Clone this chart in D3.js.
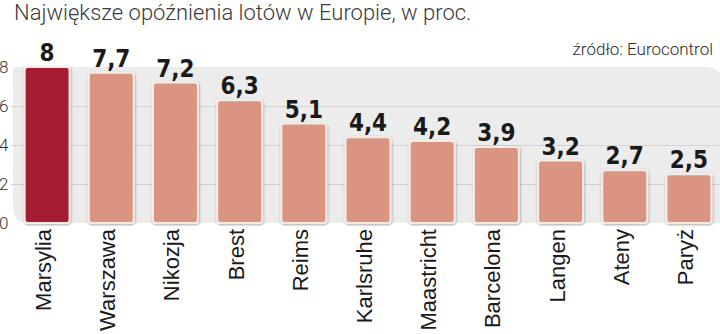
<!DOCTYPE html>
<html><head><meta charset="utf-8">
<script src="https://cdn.jsdelivr.net/npm/d3@7"></script>
<style>
html,body{margin:0;padding:0;background:#fff;}
svg{display:block;}
</style></head>
<body>
<svg id="chart" width="720" height="334"></svg>
<script>
const categories = ["Marsylia","Warszawa","Nikozja","Brest","Reims","Karlsruhe","Maastricht","Barcelona","Langen","Ateny","Paryż"];
const values = [8, 7.7, 7.2, 6.3, 5.1, 4.4, 4.2, 3.9, 3.2, 2.7, 2.5];
const valueLabels = ["8","7,7","7,2","6,3","5,1","4,4","4,2","3,9","3,2","2,7","2,5"];
const yTicks = [0, 2, 4, 6, 8];
const highlight = ["Marsylia"];
const title = "Największe opóźnienia lotów w Europie, w proc.";
const source = "źródło: Eurocontrol";

const W = 720, H = 334;
const svg = d3.select("#chart");

const x = d3.scaleBand().domain(categories).range([15, 721]).paddingInner(0.3).paddingOuter(0.15);
const y = d3.scaleLinear().domain([0, 8]).range([223, 67]);

const defs = svg.append("defs");
const f = defs.append("filter").attr("id","sh").attr("x","-20%").attr("y","-20%").attr("width","140%").attr("height","140%");
f.append("feDropShadow").attr("dx",0.5).attr("dy",1).attr("stdDeviation",1.2).attr("flood-color","#000").attr("flood-opacity",0.35);

// title
svg.append("text").attr("x", 14).attr("y", 20)
  .attr("font-family","Roboto").attr("font-weight",300).attr("font-size",22)
  .attr("fill","#3a3a3a").text(title);

svg.append("text").attr("x", 713).attr("y", 55).attr("text-anchor","end")
  .attr("font-family","Roboto").attr("font-weight",300).attr("font-size",17)
  .attr("fill","#2a2a2a").text(source);

// panel
const px0 = 13, px1 = 722, py0 = y(8), py1 = y(0), r = 16;
svg.append("path")
  .attr("d", `M${px0},${py0} L${px1 - r},${py0} Q${px1},${py0} ${px1},${py0 + r} L${px1},${py1} L${px0 + r},${py1} Q${px0},${py1} ${px0},${py1 - r} Z`)
  .attr("fill","#ececec");

// gridlines
svg.append("g").selectAll("line").data(yTicks.filter(t => t > 0 && t < 8)).join("line")
  .attr("x1", 11).attr("x2", 720).attr("y1", d => y(d) + 0.5).attr("y2", d => y(d) + 0.5)
  .attr("stroke","#d2d2d2").attr("stroke-width",1);

// tick labels
svg.append("g").selectAll("text").data(yTicks).join("text")
  .attr("x", -1).attr("y", d => y(d)).attr("dy","0.35em")
  .attr("font-family","Roboto").attr("font-weight",300).attr("font-size",17)
  .attr("fill","#333").text(d => d);

// bars
const data = categories.map((c, i) => ({c, v: values[i], l: valueLabels[i]}));
svg.append("g").selectAll("rect").data(data).join("rect")
  .attr("x", d => x(d.c)).attr("width", x.bandwidth())
  .attr("y", d => y(d.v)).attr("height", d => y(0) - y(d.v))
  .attr("rx", 3).attr("ry", 3)
  .attr("fill", d => highlight.includes(d.c) ? "#a31a30" : "#db9481")
  .attr("stroke", "#f7ece6").attr("stroke-width", 2)
  .attr("filter","url(#sh)");

// value labels
svg.append("g").selectAll("text").data(data).join("text")
  .attr("x", d => x(d.c) + x.bandwidth() / 2).attr("y", d => y(d.v) - 6)
  .attr("text-anchor","middle")
  .attr("font-family","'DejaVu Sans Condensed', 'DejaVu Sans'").attr("font-stretch","condensed")
  .attr("font-weight","bold").attr("font-size",24)
  .attr("fill","#1a1a1a").text(d => d.l);

// category labels
svg.append("g").selectAll("text").data(data).join("text")
  .attr("transform", d => `translate(${x(d.c) + x.bandwidth() / 2 + 4},229) rotate(-90)`)
  .attr("text-anchor","end")
  .attr("font-family","'Liberation Sans', Arial").attr("font-size",22)
  .attr("fill","#1a1a1a").text(d => d.c);
</script>
</body></html>
